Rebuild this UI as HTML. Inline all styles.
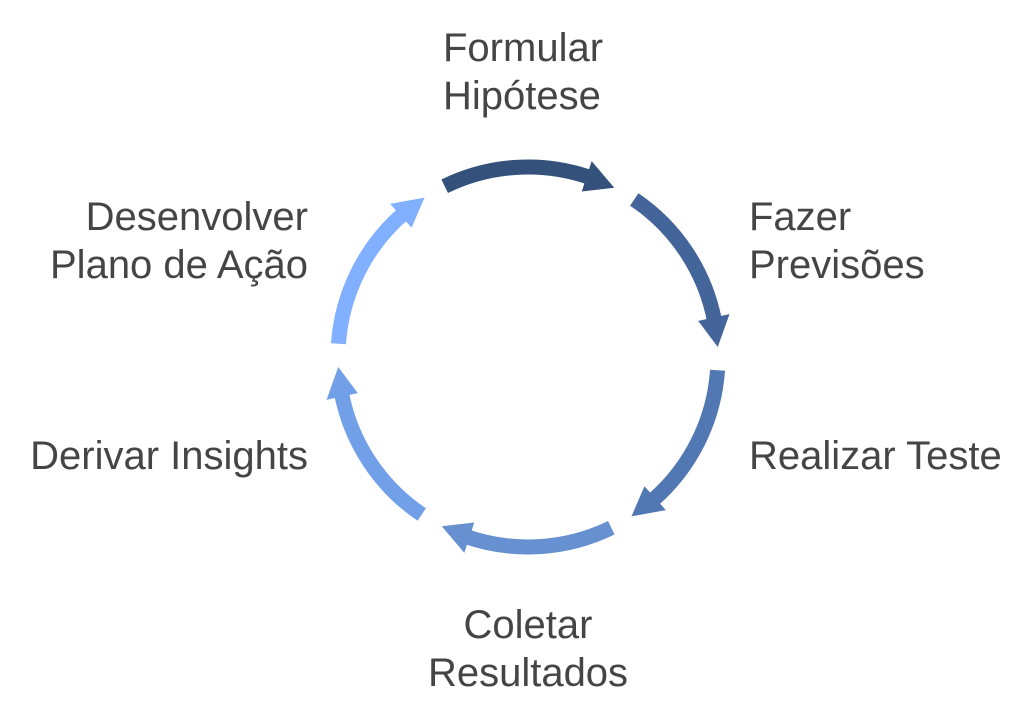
<!DOCTYPE html>
<html><head><meta charset="utf-8"><style>
html,body{margin:0;padding:0;background:#fff}
.t{position:absolute;font-family:"Liberation Sans",sans-serif;font-size:40px;color:#454545;line-height:48px;white-space:nowrap}
.r{text-align:right;width:400px}
.c{text-align:center;width:400px}
</style></head><body>
<div style="position:relative;width:1032px;height:720px;overflow:hidden">
<svg id="s" width="1032" height="720" style="position:absolute;left:0;top:0"></svg>
<div class="t" style="left:443px;top:24px">Formular<br>Hipótese</div>
<div class="t" style="left:749px;top:193px">Fazer<br>Previsões</div>
<div class="t" style="left:749px;top:432px">Realizar Teste</div>
<div class="t c" style="left:328px;top:601px">Coletar<br>Resultados</div>
<div class="t r" style="left:-92px;top:432px">Derivar Insights</div>
<div class="t r" style="left:-92px;top:193px">Desenvolver<br>Plano de Ação</div>
</div>
<script>
var cx=528,cy=357,r=190,w=15;
var cols=["#34517c","#44659a","#5278b4","#6790d0","#72a0e8","#80b0ff"];
function p(a,rr){var t=a*Math.PI/180;return [cx+rr*Math.sin(t),cy-rr*Math.cos(t)];}
var h="";
for(var k=0;k<6;k++){
 var a0=k*60-26,ae=k*60+27,ab=k*60+18;
 var s=p(a0,r),e=p(ab+1,r);
 h+='<path d="M'+s[0]+' '+s[1]+' A'+r+' '+r+' 0 0 1 '+e[0]+' '+e[1]+'" fill="none" stroke="'+cols[k]+'" stroke-width="'+w+'"/>';
 var t=p(ae,r),b1=p(ab,r+16),b2=p(ab,r-16);
 h+='<polygon points="'+t.join(",")+' '+b1.join(",")+' '+b2.join(",")+'" fill="'+cols[k]+'"/>';
}
document.getElementById("s").innerHTML=h;
</script>
</body></html>
